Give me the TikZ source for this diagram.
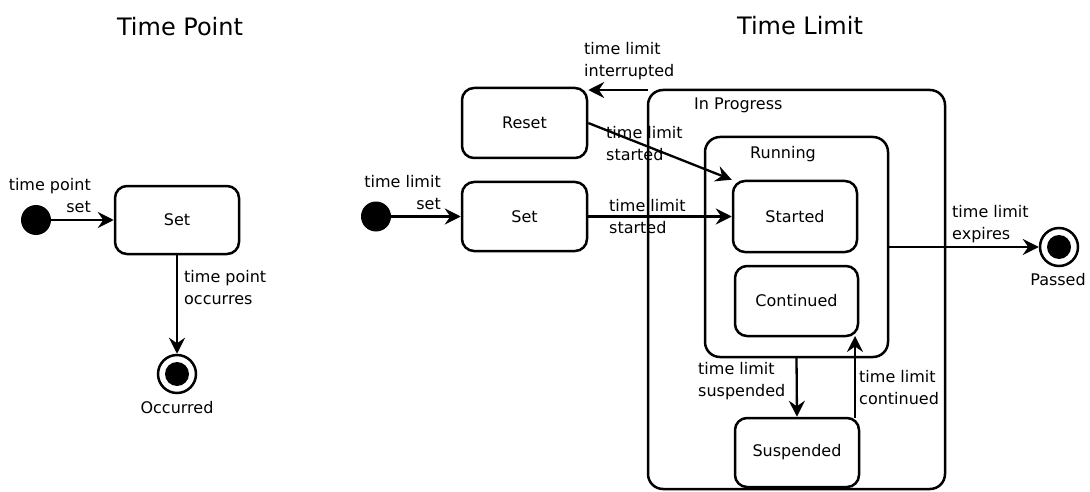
\documentclass[tikz,border=0pt]{standalone}
\usepackage{fontspec}
\setmainfont{DejaVu Sans}
\usetikzlibrary{arrows.meta,calc}

\tikzset{
  every node/.style={font=\fontsize{16}{22}\selectfont, inner sep=0pt},
  state/.style={draw, line width=2.5pt, rounded corners=12pt, align=center},
  region/.style={draw, line width=2.5pt, rounded corners=15pt},
  initial/.style={circle, fill=black, minimum size=30pt},
  final/.style={circle, draw, line width=2.5pt, minimum size=38pt},
  arr/.style={line width=2.3pt, -{Stealth[length=16pt,width=16pt,inset=5.5pt]}},
  lbl/.style={align=left, anchor=west},
  lblr/.style={align=right, anchor=east},
  title/.style={font=\fontsize{24}{28}\selectfont}
}

\begin{document}
\begin{tikzpicture}[x=1pt, y=-1pt]
\useasboundingbox (0,0) rectangle (1090,492);

% ---------- Time Point ----------
\node[title] (tpTitle) at (180,27) {Time Point};

\node[initial] (tpInit) at (36,220) {};
\node[state, minimum width=124pt, minimum height=68pt] (tpSet) at (177,220) {Set};
\node[final] (tpOcc) at (177,374) {};
\fill (tpOcc.center) circle (12);
\node (tpOccLbl) at (177,408) {Occurred};

\draw[arr] (tpInit) -- (tpSet);
\node[lblr] (tpSetLbl) at (91,196) {time point\\set};
\draw[arr] (tpSet.south) -- (tpOcc.north);
\node[lbl] (tpOccTr) at (184,288) {time point\\occurres};

% ---------- Time Limit ----------
\node[title] (tlTitle) at (800,26) {Time Limit};

\node[initial] (tlInit) at (376,216.5) {};
\node[state, minimum width=125pt, minimum height=69pt] (tlSet) at (524.5,216.5) {Set};
\node[state, minimum width=125pt, minimum height=70pt] (tlReset) at (524.5,123) {Reset};

% composite states
\draw[region] (648,90) rectangle (945,489);
\coordinate (ipNW) at (648,90);
\node[lbl] (ipLbl) at (694,105) {In Progress};

\draw[region] (705,137) rectangle (888,357);
\coordinate (runS) at (796.5,357);
\coordinate (runE) at (888,247);
\node (runLbl) at (783,154) {Running};

\node[state, minimum width=124pt, minimum height=71pt] (tlStarted) at (795,216.5) {Started};
\node[state, minimum width=123pt, minimum height=70pt] (tlCont) at (796.5,301) {Continued};
\node[state, minimum width=124pt, minimum height=69pt] (tlSusp) at (797,452.5) {Suspended};

\node[final] (tlPassed) at (1059,247) {};
\fill (tlPassed.center) circle (12);
\node (tlPassedLbl) at (1058,280) {Passed};

% transitions
\draw[arr] (tlInit) -- (tlSet);
\node[lblr] (tlSetLbl) at (441,193) {time limit\\set};

\draw[arr] (tlSet) -- (tlStarted);
\node[lbl] (tlSetTr) at (609,217) {time limit\\started};

\draw[arr] (tlReset.east) -- (tlStarted.north west);
\node[lbl] (tlResetTr) at (606,144) {time limit\\started};

\draw[arr] (ipNW) -- (ipNW -| tlReset.east);
\node[lbl] (tlIntTr) at (584,61) {time limit\\interrupted};

\draw[arr] (runE) -- (tlPassed);
\node[lbl] (tlExpTr) at (952,224) {time limit\\expires};

\draw[arr] (runS) -- (tlSusp.north);
\node[lbl] (tlSuspTr) at (698,381) {time limit\\suspended};

\coordinate (suspOut) at (855,418);
\coordinate (contIn) at (855,336);
\draw[arr] (suspOut) -- (contIn);
\node[lbl] (tlContTr) at (859,388) {time limit\\continued};
\end{tikzpicture}
\end{document}
